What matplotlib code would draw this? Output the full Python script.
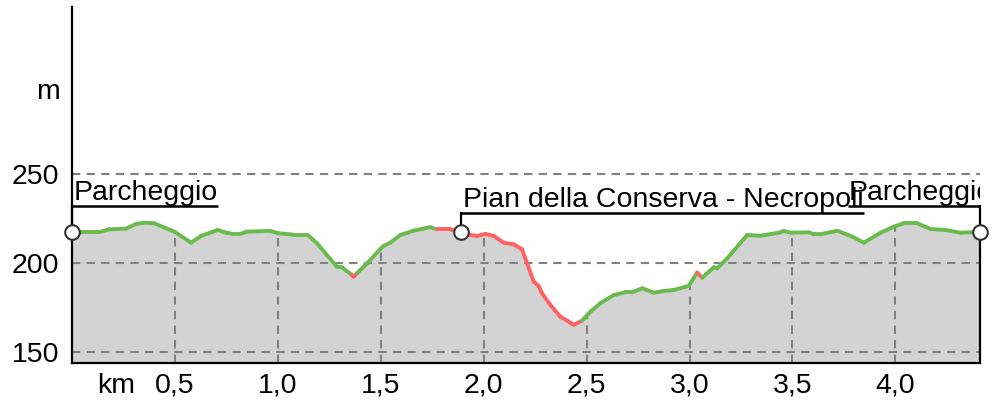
import numpy as np
import matplotlib.pyplot as plt
from matplotlib.collections import LineCollection
from matplotlib.transforms import blended_transform_factory

plt.rcParams['font.family'] = ['Liberation Sans', 'DejaVu Sans']

# elevation profile (km, m)
dist_km = [0.000, 0.133, 0.181, 0.263, 0.311, 0.351, 0.400, 0.457, 0.497, 0.579,
           0.627, 0.708, 0.749, 0.784, 0.817, 0.849, 0.963, 1.003, 1.076, 1.144,
           1.190, 1.238, 1.287, 1.311, 1.359, 1.368, 1.384, 1.433, 1.497, 1.513,
           1.546, 1.595, 1.659, 1.740, 1.773, 1.838, 1.890, 1.935, 1.967, 2.008,
           2.048, 2.097, 2.145, 2.186, 2.211, 2.243, 2.267, 2.283, 2.324, 2.372,
           2.405, 2.437, 2.478, 2.518, 2.567, 2.632, 2.688, 2.721, 2.770, 2.826,
           2.875, 2.923, 2.996, 3.037, 3.061, 3.118, 3.134, 3.183, 3.280, 3.345,
           3.434, 3.458, 3.491, 3.580, 3.604, 3.636, 3.718, 3.791, 3.847, 3.928,
           3.993, 4.041, 4.106, 4.171, 4.244, 4.317, 4.411]
elev_m = [217.4, 217.4, 218.9, 219.3, 221.9, 222.6, 222.3, 219.5, 217.6, 211.4,
          215.2, 218.5, 217.0, 216.3, 216.3, 217.6, 218.0, 216.7, 215.9, 215.9,
          211.1, 204.5, 197.9, 197.6, 193.3, 192.3, 194.2, 199.8, 207.7, 209.5,
          211.4, 215.7, 218.1, 220.1, 218.9, 218.9, 217.4, 215.7, 215.2, 216.3,
          215.2, 211.4, 210.5, 207.7, 199.8, 189.5, 187.1, 183.0, 176.4, 169.8,
          167.6, 165.2, 167.6, 172.6, 177.4, 182.0, 183.5, 183.5, 185.8, 183.3,
          184.3, 184.8, 187.1, 194.6, 191.7, 197.6, 197.0, 202.6, 215.7, 215.3,
          217.0, 218.0, 217.0, 217.2, 216.1, 216.1, 218.1, 214.8, 211.4, 217.0,
          220.4, 222.3, 222.3, 219.1, 218.5, 217.0, 217.4]

# stretches drawn in red (km)
red_ranges = [(1.359, 1.384), (1.773, 2.478), (3.037, 3.061)]

waypoint_km = [0.0, 1.890, 4.411]
waypoint_names = ["Parcheggio", "Pian della Conserva - Necropoli", "Parcheggio"]
label_left_km = [0.01, 1.90, 3.772]
label_line_m = [232.0, 228.3, 232.2]

x_ticks = [0.213, 0.5, 1.0, 1.5, 2.0, 2.5, 3.0, 3.5, 4.0]
x_labels = ["km", "0,5", "1,0", "1,5", "2,0", "2,5", "3,0", "3,5", "4,0"]
y_ticks = [150, 200, 250]
y_labels = ["150", "200", "250"]

ymin, ymax = 143.8, 343.8
x = np.array(dist_km)
y = np.array(elev_m)
fs = 20.5

fig = plt.figure(figsize=(9.99, 4.08), dpi=100)
ax = fig.add_axes([72 / 999, 45 / 408, 908 / 999, 356 / 408])
ax.set_xlim(0, x[-1])
ax.set_ylim(ymin, ymax)

grid_color = "#808080"
ax.fill_between(x, ymin, y, color="#d3d3d3", lw=0, zorder=1)

# horizontal grid across, vertical grid only under the profile
for yt in y_ticks:
    ax.plot([0, x[-1]], [yt, yt], color=grid_color, lw=1.5, ls=(0, (4, 3)), zorder=2)
for xt in x_ticks[1:]:
    ax.plot([xt, xt], [ymin, np.interp(xt, x, y)], color=grid_color, lw=1.5,
            ls=(0, (4, 3)), zorder=2)

# profile line coloured by stretch
segs = np.stack([np.column_stack([x[:-1], y[:-1]]), np.column_stack([x[1:], y[1:]])], axis=1)
mids = (x[:-1] + x[1:]) / 2
cols = []
for m in mids:
    red = any(a <= m <= b for a, b in red_ranges)
    cols.append("#ff6262" if red else "#6abb4e")
ax.add_collection(LineCollection(segs, colors=cols, linewidths=2.8, zorder=3,
                                 capstyle="round", joinstyle="round"))

# right edge of the profile
ax.plot([x[-1], x[-1]], [ymin, y[-1]], color="black", lw=1.6, clip_on=False, zorder=4)

# waypoints
wy = np.interp(waypoint_km, x, y)
fig.canvas.draw()
renderer = fig.canvas.get_renderer()
for wk, wm, name, lk, lm in zip(waypoint_km, wy, waypoint_names, label_left_km, label_line_m):
    ax.plot([wk, wk], [wm, lm], color="black", lw=1.6, clip_on=False, zorder=4)
    t = ax.text(lk, lm + 3.2, name, fontsize=fs, ha="left", va="baseline",
                clip_on=True, zorder=6)
    bb = t.get_window_extent(renderer).transformed(ax.transData.inverted())
    x0 = min(wk, bb.x0)
    x1 = min(max(wk, bb.x1), x[-1])
    ax.plot([x0, x1], [lm, lm], color="black", lw=1.8, solid_capstyle="butt",
            clip_on=False, zorder=4)
ax.plot(waypoint_km, wy, "o", mfc="white", mec="#333333", ms=10.5, mew=1.5,
        clip_on=False, zorder=7)

ax.set_xticks(x_ticks)
ax.set_xticklabels(x_labels)
ax.set_yticks(y_ticks)
ax.set_yticklabels(y_labels)
ax.tick_params(length=0, labelsize=fs)
ax.tick_params(axis="y", pad=9)
ax.tick_params(axis="x", pad=7)
ax.text(-12 / 908, 296, "m", fontsize=fs, ha="right", va="center",
        transform=blended_transform_factory(ax.transAxes, ax.transData))

for s in ["top", "right"]:
    ax.spines[s].set_visible(False)
for s in ["left", "bottom"]:
    ax.spines[s].set_linewidth(1.6)
ax.spines["bottom"].set_zorder(5)

fig.savefig("out.png", dpi=100)
